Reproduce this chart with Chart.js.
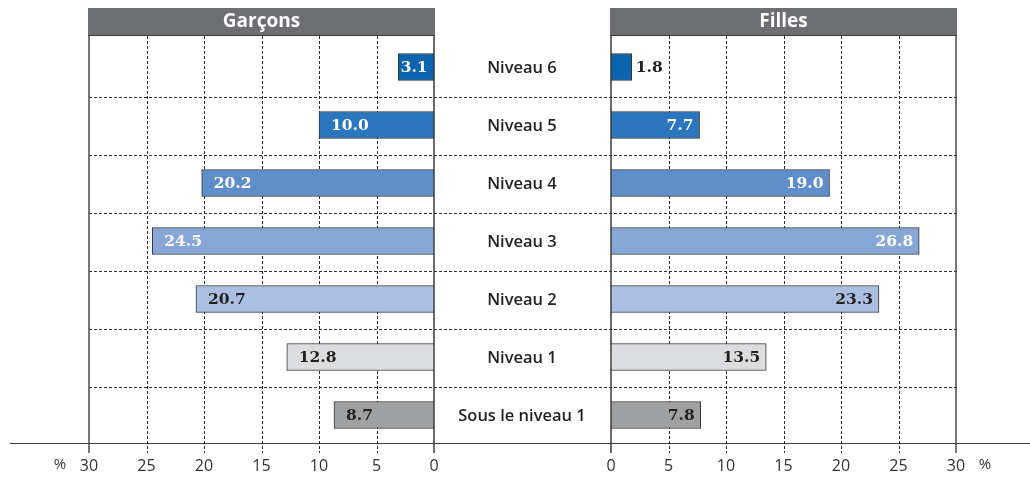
<!DOCTYPE html>
<html>
<head>
<meta charset="utf-8">
<script src="https://cdn.jsdelivr.net/npm/chart.js@4.4.1/dist/chart.umd.min.js"></script>
<style>
  html, body { margin: 0; padding: 0; background: #fff; }
  #wrap { position: relative; width: 1030px; height: 478px; }
  #wrap canvas { position: absolute; left: 0; top: 0; }
</style>
</head>
<body>
<div id="wrap">
  <canvas id="boysChart" width="1030" height="478"></canvas>
  <canvas id="girlsChart" width="1030" height="478"></canvas>
</div>
<script>
// Proficiency levels, top to bottom
const levels = ['Niveau 6', 'Niveau 5', 'Niveau 4', 'Niveau 3', 'Niveau 2', 'Niveau 1', 'Sous le niveau 1'];
// Percentage of students at each level
const boysValues = [3.1, 10.0, 20.2, 24.5, 20.7, 12.8, 8.7];
const girlsValues = [1.8, 7.7, 19.0, 26.8, 23.3, 13.5, 7.8];
// Panel headings
const panelTitles = ['Garçons', 'Filles'];
// Axis ticks (percent)
const tickValues = [0, 5, 10, 15, 20, 25, 30];

const levelColors = ['#0b64ae', '#2a77c0', '#5f8fca', '#87a8d6', '#abbfe2', '#dcdddf', '#9fa0a2'];
const valueTextColors = ['#ffffff', '#ffffff', '#ffffff', '#ffffff', '#231f20', '#231f20', '#231f20'];

const AXIS_MAX = tickValues[tickValues.length - 1];
const GRID_TOP = 36;
const GRID_BOTTOM = 453;
const AXIS_Y = 443.5;
const CENTER_X = 522;

function strokeLine(ctx, x1, y1, x2, y2) {
  ctx.beginPath();
  ctx.moveTo(x1, y1);
  ctx.lineTo(x2, y2);
  ctx.stroke();
}

// Header band, vertical grid and value labels for one panel
function panelPlugin(title, side) {
  return {
    id: 'panel_' + side,
    beforeDatasetsDraw(chart) {
      const ctx = chart.ctx;
      const xs = chart.scales.x;
      const ys = chart.scales.y;
      const px0 = xs.getPixelForValue(0);
      const pxMax = xs.getPixelForValue(AXIS_MAX);
      const left = Math.min(px0, pxMax);
      const right = Math.max(px0, pxMax);
      ctx.save();

      if (side === 'left') {
        // Row separators across both panels
        ctx.strokeStyle = '#333';
        ctx.lineWidth = 1;
        ctx.setLineDash([3, 2]);
        for (let i = 0; i < levels.length - 1; i++) {
          const yy = Math.round((ys.getPixelForValue(i) + ys.getPixelForValue(i + 1)) / 2) + 1.5;
          strokeLine(ctx, 89, yy, 957, yy);
        }
        ctx.setLineDash([]);
        // Baseline under both panels
        ctx.strokeStyle = '#3a3a3a';
        strokeLine(ctx, 10, AXIS_Y, 1030, AXIS_Y);
        // Category names between the panels
        ctx.fillStyle = '#231f20';
        ctx.font = '600 16.5px "Open Sans"';
        ctx.textAlign = 'center';
        ctx.textBaseline = 'middle';
        levels.forEach((lab, i) => {
          ctx.fillText(lab, CENTER_X, ys.getPixelForValue(i) + 1);
        });
      }

      // Dashed vertical grid
      ctx.strokeStyle = '#2b2b2b';
      ctx.lineWidth = 1;
      ctx.setLineDash([3, 2]);
      tickValues.slice(1, -1).forEach(v => {
        const px = Math.round(xs.getPixelForValue(v)) + 0.5;
        strokeLine(ctx, px, GRID_TOP, px, GRID_BOTTOM);
      });
      ctx.setLineDash([]);

      // Solid panel edges
      ctx.lineWidth = 1.5;
      ctx.strokeStyle = '#4a4a4c';
      strokeLine(ctx, pxMax, GRID_TOP, pxMax, GRID_BOTTOM);
      ctx.strokeStyle = '#3a3a3a';
      strokeLine(ctx, px0, GRID_TOP, px0, GRID_BOTTOM);

      // Header band
      ctx.fillStyle = '#6d6e71';
      ctx.fillRect(left - 1, 8, right - left + 2, 28);
      ctx.strokeStyle = '#3c3c3e';
      ctx.lineWidth = 1;
      strokeLine(ctx, left - 1, 35.5, right + 1, 35.5);
      ctx.fillStyle = '#ffffff';
      ctx.font = 'bold 19px "Open Sans"';
      ctx.textAlign = 'center';
      ctx.textBaseline = 'middle';
      ctx.fillText(title, (left + right) / 2, 22);

      // Percent sign beside the outer tick label
      ctx.fillStyle = '#333';
      ctx.font = '15px "Open Sans"';
      ctx.textBaseline = 'middle';
      ctx.fillText('%', side === 'left' ? pxMax - 29 : pxMax + 29, 465);
      ctx.restore();
    },
    afterDatasetsDraw(chart) {
      const ctx = chart.ctx;
      const meta = chart.getDatasetMeta(0);
      const values = chart.data.datasets[0].data;
      ctx.save();
      ctx.font = 'bold 15.5px "DejaVu Serif"';
      ctx.textBaseline = 'middle';
      meta.data.forEach((bar, i) => {
        const text = values[i].toFixed(1);
        const tw = ctx.measureText(text).width;
        const barW = Math.abs(bar.x - bar.base);
        let tx, align, color = valueTextColors[i];
        if (side === 'left') {
          if (barW >= tw + 24) { tx = bar.x + 12; align = 'left'; }
          else { tx = (bar.x + bar.base) / 2 - 2; align = 'center'; }
        } else {
          if (barW >= tw + 12) { tx = bar.x - 6; align = 'right'; }
          else { tx = bar.x + 4; align = 'left'; color = '#231f20'; }
        }
        ctx.textAlign = align;
        ctx.fillStyle = color;
        ctx.fillText(text, tx, bar.y + 1);
      });
      ctx.restore();
    }
  };
}

function makePanel(canvasId, values, title, side) {
  const padLeft = side === 'left' ? 89 : 611;
  const padRight = side === 'left' ? 1030 - 434 : 1030 - 956;
  return new Chart(document.getElementById(canvasId), {
    type: 'bar',
    data: {
      labels: levels,
      datasets: [{
        data: values,
        backgroundColor: levelColors,
        borderColor: '#333333',
        borderWidth: 1,
        borderSkipped: false,
        barThickness: 27
      }]
    },
    options: {
      indexAxis: 'y',
      responsive: false,
      animation: false,
      devicePixelRatio: 1,
      layout: { padding: { top: 38, bottom: 0, left: padLeft, right: padRight } },
      plugins: { legend: { display: false }, tooltip: { enabled: false } },
      scales: {
        y: { display: false, offset: true },
        x: {
          type: 'linear',
          min: 0,
          max: AXIS_MAX,
          reverse: side === 'left',
          offset: false,
          grid: { display: false, drawTicks: false },
          border: { display: false },
          afterBuildTicks(scale) { scale.ticks = tickValues.map(v => ({ value: v })); },
          afterFit(scale) { scale.height = 34; },
          ticks: {
            autoSkip: false,
            maxRotation: 0,
            padding: 13,
            color: '#333',
            font: { family: 'Open Sans', size: 16 },
            callback: v => String(v)
          }
        }
      }
    },
    plugins: [panelPlugin(title, side)]
  });
}

makePanel('boysChart', boysValues, panelTitles[0], 'left');
makePanel('girlsChart', girlsValues, panelTitles[1], 'right');
</script>
</body>
</html>
